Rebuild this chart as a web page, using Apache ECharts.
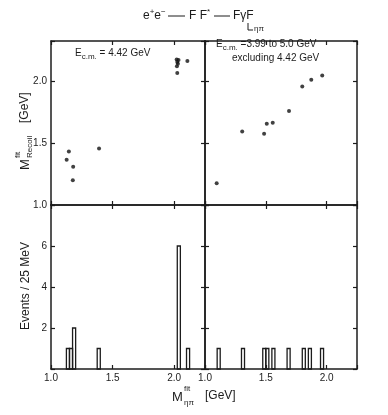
<!DOCTYPE html>
<html>
<head>
<meta charset="utf-8">
<script src="https://cdn.jsdelivr.net/npm/echarts@6/dist/echarts.min.js"></script>
<style>
html, body { margin: 0; padding: 0; background: #fff; }
#chart { width: 388px; height: 415px; }
</style>
</head>
<body>
<div id="chart"></div>
<script>
// M_etapi (fit) vs M_recoil (fit), one point per event
const leftMassX = [1.127, 1.145, 1.18, 1.177, 1.39, 2.02, 2.035, 2.025, 2.03, 2.022, 2.025, 2.107];
const leftRecoilY = [1.366, 1.433, 1.31, 1.20, 1.458, 2.18, 2.175, 2.16, 2.145, 2.125, 2.07, 2.168];
const rightMassX = [1.096, 1.306, 1.486, 1.508, 1.557, 1.691, 1.80, 1.874, 1.964];
const rightRecoilY = [1.176, 1.596, 1.577, 1.659, 1.667, 1.762, 1.962, 2.016, 2.051];

// histograms in 25 MeV bins (left edge of each bin)
const binWidth = 0.025;
const leftBins = [1.125, 1.15, 1.175, 1.375, 2.025, 2.1];
const leftCounts = [1, 1, 2, 1, 6, 1];
const rightBins = [1.1, 1.3, 1.475, 1.5, 1.55, 1.675, 1.8, 1.85, 1.95];
const rightCounts = [1, 1, 1, 1, 1, 1, 1, 1, 1];

// tick labels
const massTicks = ['1.0', '1.5', '2.0'];
const recoilTicks = ['1.0', '1.5', '2.0'];
const eventTicks = ['2', '4', '6'];

const ink = '#1c1c1c';
const font = '"Liberation Sans", "DejaVu Sans", sans-serif';

const chart = echarts.init(document.getElementById('chart'));

// upper-left, upper-right, lower-left, lower-right
const grids = [
  { left: 51, top: 41, width: 154, height: 164 },
  { left: 205, top: 41, width: 152, height: 164 },
  { left: 51, top: 205, width: 154, height: 164 },
  { left: 205, top: 205, width: 152, height: 164 }
];

function xAx(g, pos, showLabel) {
  return {
    type: 'value', gridIndex: g, position: pos, min: 1.0, max: 2.25, interval: 0.5,
    axisLine: { show: true, onZero: false, lineStyle: { color: ink, width: 1.5 } },
    axisTick: { show: true, inside: true, length: 4, lineStyle: { color: ink, width: 1.2 } },
    splitLine: { show: false },
    axisLabel: {
      show: showLabel, margin: 4, fontSize: 10, color: ink, fontFamily: font,
      formatter: v => massTicks.includes(v.toFixed(1)) && Math.abs(v * 2 - Math.round(v * 2)) < 1e-6 ? v.toFixed(1) : ''
    }
  };
}

function yAx(g, pos, showLabel, lo, hi, step, ticks, dec) {
  return {
    type: 'value', gridIndex: g, position: pos, min: lo, max: hi, interval: step,
    axisLine: { show: true, onZero: false, lineStyle: { color: ink, width: 1.5 } },
    axisTick: { show: true, inside: true, length: 4, lineStyle: { color: ink, width: 1.2 } },
    splitLine: { show: false },
    axisLabel: {
      show: showLabel, margin: 4, fontSize: 10, color: ink, fontFamily: font,
      formatter: v => {
        const s = v.toFixed(dec);
        return ticks.includes(s) && Math.abs(v / step - Math.round(v / step)) < 1e-6 ? s : '';
      }
    }
  };
}

const xAxes = [], yAxes = [];
for (let g = 0; g < 4; g++) {
  const lower = g >= 2, leftSide = g % 2 === 0;
  xAxes.push(xAx(g, 'bottom', lower));
  xAxes.push(xAx(g, 'top', false));
  if (lower) {
    yAxes.push(yAx(g, 'left', leftSide, 0, 8, 2, eventTicks, 0));
    yAxes.push(yAx(g, 'right', false, 0, 8, 2, eventTicks, 0));
  } else {
    yAxes.push(yAx(g, 'left', leftSide, 1.0, 2.33, 0.5, recoilTicks, 1));
    yAxes.push(yAx(g, 'right', false, 1.0, 2.33, 0.5, recoilTicks, 1));
  }
}

function histItem(params, api) {
  const x0 = api.value(0), h = api.value(1);
  const p0 = api.coord([x0, 0]);
  const p1 = api.coord([x0 + binWidth, h]);
  return {
    type: 'rect',
    shape: { x: p0[0], y: p1[1], width: p1[0] - p0[0], height: p0[1] - p1[1] },
    style: { fill: 'none', stroke: ink, lineWidth: 1.3 }
  };
}

const scatterStyle = { symbol: 'circle', symbolSize: 4, itemStyle: { color: '#111' }, silent: true };

const t = { fontSize: 10, lineHeight: 16, fontFamily: font, fill: ink };
const sup = { fontSize: 8, lineHeight: 8, verticalAlign: 'top', fontFamily: font, fill: ink };
const sub = { fontSize: 8, lineHeight: 8, verticalAlign: 'bottom', fontFamily: font, fill: ink };
const tt = Object.assign({}, t, { fontSize: 12 });

function txt(x, y, s, size) {
  return { type: 'text', x: x, y: y, style: { text: s, fontSize: size, fontFamily: font, fill: ink, verticalAlign: 'middle' } };
}
function dash(x1, x2, y) {
  return { type: 'line', shape: { x1: x1, y1: y, x2: x2, y2: y }, style: { stroke: ink, lineWidth: 1 } };
}

chart.setOption({
  backgroundColor: '#fff',
  animation: false,
  grid: grids,
  xAxis: xAxes,
  yAxis: yAxes,
  series: [
    Object.assign({ type: 'scatter', xAxisIndex: 0, yAxisIndex: 0,
      data: leftMassX.map((x, i) => [x, leftRecoilY[i]]) }, scatterStyle),
    Object.assign({ type: 'scatter', xAxisIndex: 2, yAxisIndex: 2,
      data: rightMassX.map((x, i) => [x, rightRecoilY[i]]) }, scatterStyle),
    { type: 'custom', xAxisIndex: 4, yAxisIndex: 4, renderItem: histItem, silent: true,
      data: leftBins.map((b, i) => [b, leftCounts[i]]) },
    { type: 'custom', xAxisIndex: 6, yAxisIndex: 6, renderItem: histItem, silent: true,
      data: rightBins.map((b, i) => [b, rightCounts[i]]) }
  ],
  graphic: [
    // reaction
    { type: 'text', x: 143, y: 16, style: {
        text: '{t|e}{p|+}{t|e}{p|\u2212}', verticalAlign: 'middle', rich: { t: tt, p: sup } } },
    dash(168, 185, 16),
    { type: 'text', x: 189, y: 16, style: {
        text: '{t|F F}{p|*}', verticalAlign: 'middle', rich: { t: tt, p: sup } } },
    dash(214, 230, 16),
    txt(233, 16, 'F\u03b3F', 12),
    { type: 'polyline', shape: { points: [[248, 23], [248, 30], [253, 30]] },
      style: { stroke: ink, lineWidth: 1, fill: 'none' } },
    txt(254, 29, '\u03b7\u03c0', 8),
    // energy notes
    { type: 'text', x: 75, y: 53, style: {
        text: '{t|E}{b|c.m.}{t| = 4.42 GeV}', verticalAlign: 'middle', rich: { t: t, b: sub } } },
    { type: 'text', x: 216, y: 44, style: {
        text: '{t|E}{b|c.m.}{t| =3.99 to 5.0 GeV}', verticalAlign: 'middle', rich: { t: t, b: sub } } },
    txt(232, 58, 'excluding 4.42 GeV', 10),
    // y titles
    { type: 'group', x: 25, y: 131, rotation: Math.PI / 2, children: [
      txt(-39, 0, 'M', 13),
      txt(-27, -7, 'fit', 8),
      txt(-27, 5, 'Recoil', 8),
      txt(8, 0, '[GeV]', 12)
    ] },
    { type: 'text', x: 26, y: 286, rotation: Math.PI / 2, style: {
        text: 'Events / 25 MeV', fontSize: 12, fontFamily: font, fill: ink, align: 'center', verticalAlign: 'middle' } },
    // x title
    txt(172, 397, 'M', 13),
    txt(184, 389, 'fit', 8),
    txt(184, 403, '\u03b7\u03c0', 8),
    txt(205, 396, '[GeV]', 12)
  ]
});
</script>
</body>
</html>
